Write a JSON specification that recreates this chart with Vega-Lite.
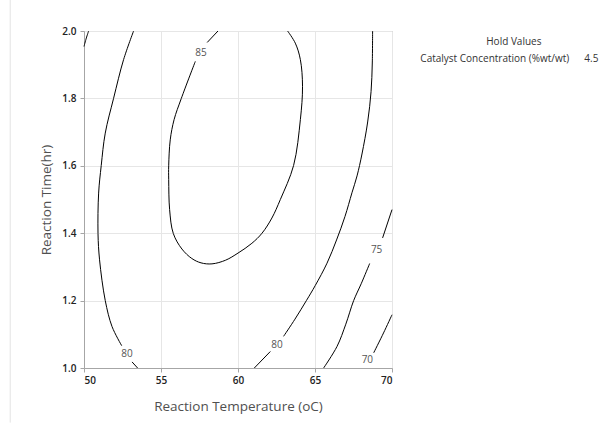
{
  "$schema": "https://vega.github.io/schema/vega-lite/v6.json",
  "width": 308,
  "height": 337,
  "autosize": {"type": "none"},
  "padding": {"left": 84, "top": 31, "right": 224, "bottom": 55},
  "background": "white",
  "config": {
    "font": "Open Sans",
    "view": {"stroke": "#a6a6a6", "strokeWidth": 1},
    "axis": {
      "grid": true,
      "gridColor": "#e6e6e6",
      "domainColor": "#a6a6a6",
      "tickColor": "#a6a6a6",
      "tickSize": 4,
      "labelFont": "Open Sans",
      "labelFontSize": 10,
      "labelFontWeight": 600,
      "labelColor": "#222222",
      "titleFont": "Open Sans",
      "titleFontSize": 13.5,
      "titleFontWeight": "normal",
      "titleColor": "#505050"
    }
  },
  "datasets": {
    "contours": [
      {"seg": "c85a", "o": 1, "x": 58.70, "y": 2.0},
      {"seg": "c85a", "o": 2, "x": 58.0, "y": 1.966},
      {"seg": "c85b", "o": 1, "x": 57.23, "y": 1.910},
      {"seg": "c85b", "o": 2, "x": 56.32, "y": 1.80},
      {"seg": "c85b", "o": 3, "x": 55.85, "y": 1.737},
      {"seg": "c85b", "o": 4, "x": 55.6, "y": 1.677},
      {"seg": "c85b", "o": 5, "x": 55.5, "y": 1.60},
      {"seg": "c85b", "o": 6, "x": 55.5, "y": 1.559},
      {"seg": "c85b", "o": 7, "x": 55.56, "y": 1.470},
      {"seg": "c85b", "o": 8, "x": 55.8, "y": 1.399},
      {"seg": "c85b", "o": 9, "x": 56.36, "y": 1.353},
      {"seg": "c85b", "o": 10, "x": 57.0, "y": 1.325},
      {"seg": "c85b", "o": 11, "x": 57.6, "y": 1.312},
      {"seg": "c85b", "o": 12, "x": 58.31, "y": 1.309},
      {"seg": "c85b", "o": 13, "x": 59.2, "y": 1.320},
      {"seg": "c85b", "o": 14, "x": 60.0, "y": 1.341},
      {"seg": "c85b", "o": 15, "x": 60.9, "y": 1.37},
      {"seg": "c85b", "o": 16, "x": 61.56, "y": 1.40},
      {"seg": "c85b", "o": 17, "x": 62.2, "y": 1.445},
      {"seg": "c85b", "o": 18, "x": 62.75, "y": 1.50},
      {"seg": "c85b", "o": 19, "x": 63.61, "y": 1.601},
      {"seg": "c85b", "o": 20, "x": 64.05, "y": 1.737},
      {"seg": "c85b", "o": 21, "x": 64.19, "y": 1.836},
      {"seg": "c85b", "o": 22, "x": 64.05, "y": 1.915},
      {"seg": "c85b", "o": 23, "x": 63.72, "y": 1.964},
      {"seg": "c85b", "o": 24, "x": 63.22, "y": 2.0},
      {"seg": "c80La", "o": 1, "x": 53.22, "y": 2.0},
      {"seg": "c80La", "o": 2, "x": 52.57, "y": 1.915},
      {"seg": "c80La", "o": 3, "x": 51.92, "y": 1.80},
      {"seg": "c80La", "o": 4, "x": 51.38, "y": 1.697},
      {"seg": "c80La", "o": 5, "x": 51.12, "y": 1.601},
      {"seg": "c80La", "o": 6, "x": 50.95, "y": 1.519},
      {"seg": "c80La", "o": 7, "x": 50.91, "y": 1.399},
      {"seg": "c80La", "o": 8, "x": 51.01, "y": 1.321},
      {"seg": "c80La", "o": 9, "x": 51.38, "y": 1.20},
      {"seg": "c80La", "o": 10, "x": 51.82, "y": 1.123},
      {"seg": "c80La", "o": 11, "x": 52.45, "y": 1.066},
      {"seg": "c80Lb", "o": 1, "x": 53.12, "y": 1.018},
      {"seg": "c80Lb", "o": 2, "x": 53.48, "y": 1.0},
      {"seg": "c80Ra", "o": 1, "x": 61.06, "y": 1.0},
      {"seg": "c80Ra", "o": 2, "x": 62.10, "y": 1.049},
      {"seg": "c80Rb", "o": 1, "x": 62.96, "y": 1.094},
      {"seg": "c80Rb", "o": 2, "x": 63.7, "y": 1.145},
      {"seg": "c80Rb", "o": 3, "x": 64.44, "y": 1.20},
      {"seg": "c80Rb", "o": 4, "x": 65.02, "y": 1.245},
      {"seg": "c80Rb", "o": 5, "x": 65.78, "y": 1.311},
      {"seg": "c80Rb", "o": 6, "x": 66.40, "y": 1.38},
      {"seg": "c80Rb", "o": 7, "x": 66.95, "y": 1.45},
      {"seg": "c80Rb", "o": 8, "x": 67.40, "y": 1.52},
      {"seg": "c80Rb", "o": 9, "x": 67.73, "y": 1.57},
      {"seg": "c80Rb", "o": 10, "x": 68.05, "y": 1.635},
      {"seg": "c80Rb", "o": 11, "x": 68.42, "y": 1.73},
      {"seg": "c80Rb", "o": 12, "x": 68.64, "y": 1.82},
      {"seg": "c80Rb", "o": 13, "x": 68.72, "y": 1.905},
      {"seg": "c80Rb", "o": 14, "x": 68.74, "y": 2.0},
      {"seg": "c75a", "o": 1, "x": 65.56, "y": 1.0},
      {"seg": "c75a", "o": 2, "x": 66.43, "y": 1.064},
      {"seg": "c75a", "o": 3, "x": 67.0, "y": 1.13},
      {"seg": "c75a", "o": 4, "x": 67.51, "y": 1.20},
      {"seg": "c75a", "o": 5, "x": 68.0, "y": 1.25},
      {"seg": "c75a", "o": 6, "x": 68.55, "y": 1.31},
      {"seg": "c75b", "o": 1, "x": 69.39, "y": 1.386},
      {"seg": "c75b", "o": 2, "x": 70.0, "y": 1.47},
      {"seg": "c70a", "o": 1, "x": 68.81, "y": 1.045},
      {"seg": "c70a", "o": 2, "x": 69.45, "y": 1.104},
      {"seg": "c70a", "o": 3, "x": 70.0, "y": 1.158},
      {"seg": "c75c", "o": 1, "x": 50.0, "y": 1.954},
      {"seg": "c75c", "o": 2, "x": 50.15, "y": 1.979},
      {"seg": "c75c", "o": 3, "x": 50.30, "y": 2.0}
    ],
    "labels": [
      {"label": "85", "x": 57.6, "y": 1.935},
      {"label": "80", "x": 52.79, "y": 1.042},
      {"label": "80", "x": 62.53, "y": 1.069},
      {"label": "75", "x": 69.0, "y": 1.35},
      {"label": "70", "x": 68.4, "y": 1.023}
    ],
    "notes": [
      {"text": "Hold Values", "x": 76.12, "y": 1.968},
      {"text": "Catalyst Concentration (%wt/wt)", "x": 71.84, "y": 1.916},
      {"text": "4.5", "x": 82.49, "y": 1.916}
    ],
    "frame": [
      {"x": 45.21, "y": 0.838, "y2": 2.093}
    ]
  },
  "encoding": {
    "x": {
      "field": "x",
      "type": "quantitative",
      "scale": {"domain": [50, 70], "nice": false, "zero": false},
      "axis": {"values": [50, 55, 60, 65, 70], "title": "Reaction Temperature (oC)", "titlePadding": 14, "labelPadding": 3}
    },
    "y": {
      "field": "y",
      "type": "quantitative",
      "scale": {"domain": [1, 2], "nice": false, "zero": false},
      "axis": {"values": [1.0, 1.2, 1.4, 1.6, 1.8, 2.0], "format": ".1f", "title": "Reaction Time(hr)", "titlePadding": 8, "labelPadding": 4}
    }
  },
  "layer": [
    {
      "data": {"name": "frame"},
      "mark": {"type": "rule", "color": "#e3e3e3", "strokeWidth": 1, "clip": false},
      "encoding": {"y2": {"field": "y2"}}
    },
    {
      "data": {"name": "contours"},
      "mark": {"type": "line", "color": "#000000", "strokeWidth": 1, "interpolate": "catmull-rom"},
      "encoding": {
        "detail": {"field": "seg", "type": "nominal"},
        "order": {"field": "o", "type": "quantitative"}
      }
    },
    {
      "data": {"name": "labels"},
      "mark": {"type": "text", "fontSize": 10, "color": "#555555", "align": "center", "baseline": "middle"},
      "encoding": {"text": {"field": "label"}}
    },
    {
      "data": {"name": "notes"},
      "mark": {"type": "text", "fontSize": 10, "color": "#333333", "align": "left", "baseline": "middle"},
      "encoding": {"text": {"field": "text"}}
    }
  ]
}
